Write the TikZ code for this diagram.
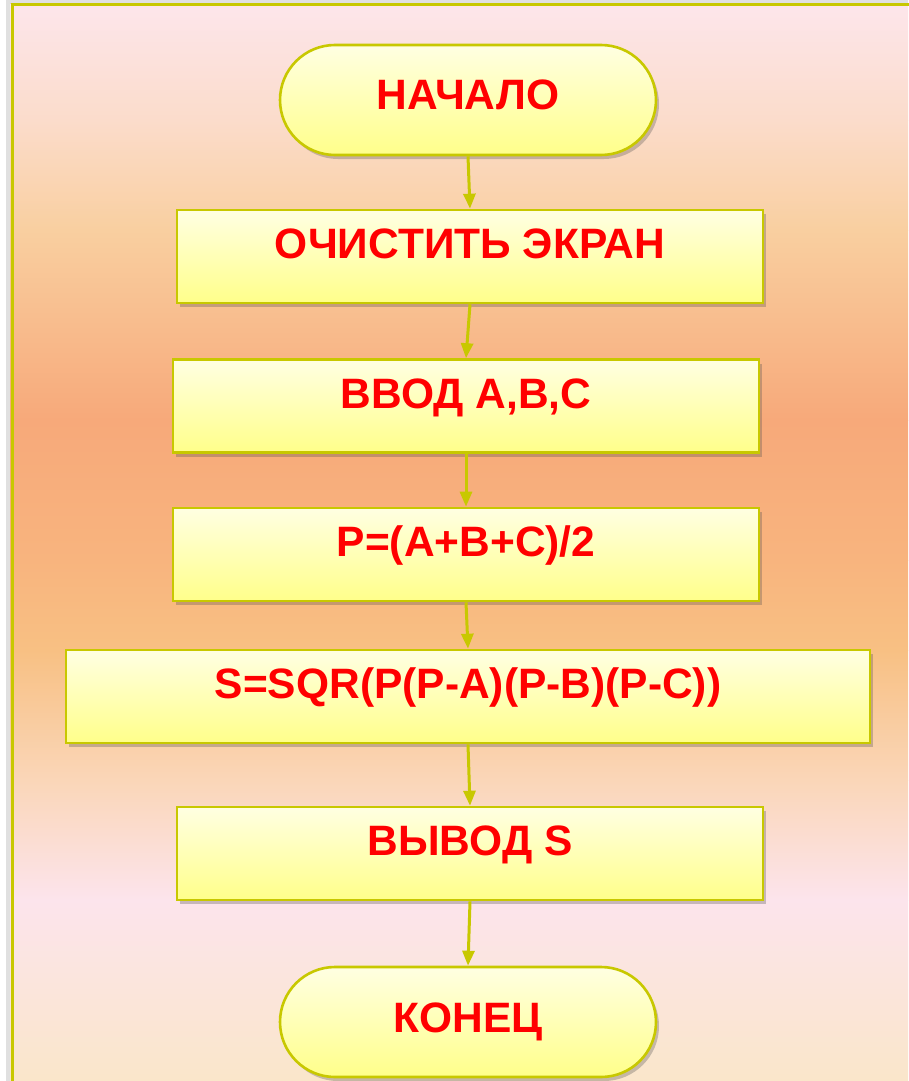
\documentclass[tikz,border=0pt]{standalone}
\usepackage{fontspec}
\setmainfont{Liberation Sans}
\usetikzlibrary{shadows,arrows.meta}
\definecolor{edge}{HTML}{C8C800}
\definecolor{txt}{HTML}{FF0000}
\definecolor{boxtop}{HTML}{FFFFE2}
\definecolor{boxbot}{HTML}{FFFF8A}
\definecolor{bgA}{HTML}{FDE6EC}
\definecolor{bgB}{HTML}{FBDCCB}
\definecolor{bgC}{HTML}{F9CFA0}
\definecolor{bgD}{HTML}{F7A97A}
\definecolor{bgE}{HTML}{F8B47E}
\definecolor{bgF}{HTML}{F8C083}
\definecolor{bgG}{HTML}{FAD6B8}
\definecolor{bgH}{HTML}{FCE4EC}
\definecolor{bgI}{HTML}{FAE6CA}
\begin{document}
\begin{tikzpicture}[x=1pt,y=-1pt,
  box/.style={rectangle, draw=edge, line width=2.6pt, top color=boxtop, bottom color=boxbot,
    minimum width=586pt, minimum height=93pt, inner sep=0pt, text=txt,
    font=\fontsize{42.5}{42.5}\selectfont\bfseries, text height=30pt, text depth=26pt,
    drop shadow={shadow xshift=3pt, shadow yshift=-4pt, opacity=0.3, fill=black!70}},
  term/.style={box, rounded corners=55pt, minimum width=376pt, minimum height=110pt, text depth=12pt},
  flow/.style={-{Triangle[length=15pt,width=12pt]}, draw=edge, line width=3pt}
]
\useasboundingbox (0,0) rectangle (908,1081);
% background gradient
\shade[top color=bgA, bottom color=bgB] (0,0) rectangle (908,120);
\shade[top color=bgB, bottom color=bgC] (0,120) rectangle (908,230);
\shade[top color=bgC, bottom color=bgD] (0,230) rectangle (908,420);
\shade[top color=bgD, bottom color=bgE] (0,420) rectangle (908,560);
\shade[top color=bgE, bottom color=bgF] (0,560) rectangle (908,650);
\shade[top color=bgF, bottom color=bgG] (0,650) rectangle (908,780);
\shade[top color=bgG, bottom color=bgH] (0,780) rectangle (908,900);
\shade[top color=bgH, bottom color=bgI] (0,900) rectangle (908,1081.5);
\fill[white] (0,0) rectangle (10,1081.5);
\fill[white] (0,0) rectangle (908,3.5);
% frame with soft shadow
\draw[black, opacity=0.12, line width=4pt] (8,1082) -- (8,2) -- (908,2);
\draw[edge, line width=3pt] (12,1082) -- (12,5) -- (909,5);
% nodes
\node[term] (start) at (468,100) {НАЧАЛО};
\node[box] (clr) at (470,256.5) {ОЧИСТИТЬ ЭКРАН};
\node[box] (inp) at (466,406) {ВВОД A,B,C};
\node[box] (perim) at (466,554.5) {P=(A+B+C)/2};
\node[box, minimum width=804pt] (area) at (468,696.5) {S=SQR(P(P-A)(P-B)(P-C))};
\node[box] (outp) at (470,853.5) {ВЫВОД S};
\node[term, text depth=10pt] (stop) at (468,1022) {КОНЕЦ};
% connectors
\draw[flow] (start.south) -- (clr.north);
\draw[flow] (clr.south) -- (inp.north);
\draw[flow] (inp.south) -- (perim.north);
\draw[flow] (perim.south) -- (area.north);
\draw[flow] (area.south) -- (outp.north);
\draw[flow] (outp.south) -- (stop.north);
\end{tikzpicture}
\end{document}
